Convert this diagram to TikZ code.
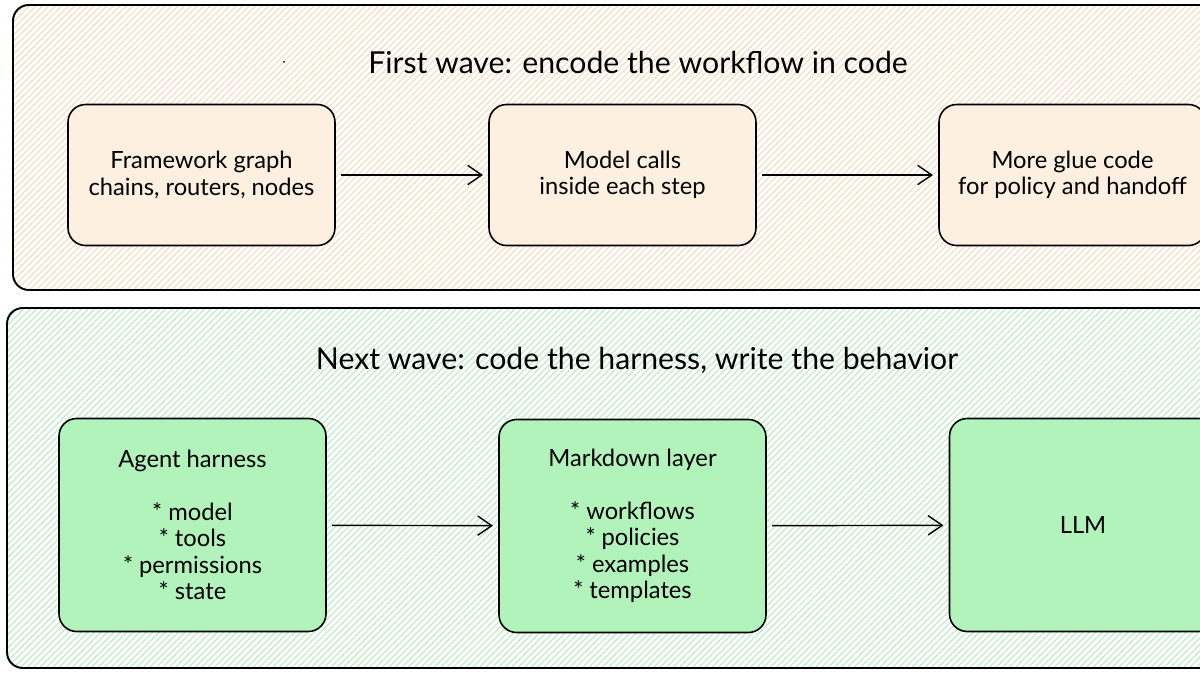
\documentclass[tikz,border=0pt]{standalone}
\usepackage{fontspec}
\setmainfont{Lato}
\usepackage{xcolor}
\usetikzlibrary{arrows.meta, patterns.meta, positioning}

\definecolor{peach}{HTML}{FDF0E1}
\definecolor{mint}{HTML}{B2F2BB}
\definecolor{hatchorange}{HTML}{F8DABA}
\definecolor{hatchgreen}{HTML}{B6ECBE}

\begin{document}
\begin{tikzpicture}[x=0.02cm, y=-0.02cm,
  panel/.style={line width=1.1pt, rounded corners=9pt},
  box/.style={draw, line width=0.9pt, rounded corners=10pt, minimum width=5.34cm,
    align=center, font=\fontsize{13.5}{15}\selectfont},
  wavebox/.style={box, fill=peach, minimum height=2.82cm},
  greenbox/.style={box, fill=mint, minimum height=4.26cm},
  flow/.style={-{Straight Barb[length=8pt,width=11pt]}, line width=0.8pt,
    shorten <=3pt, shorten >=3pt},
  title/.style={font=\fontsize{17.2}{20}\selectfont}]

  % Canvas
  \useasboundingbox (0,0) rectangle (1200,675);
  \clip (0,0) rectangle (1200,675);
  \fill[white] (0,0) rectangle (1200,675);

  % First wave panel
  \fill[white, panel] (13,5) rectangle (1230,290);
  \path[panel, pattern={Lines[angle=45, distance=2.6pt, line width=0.6pt]},
    pattern color=hatchorange] (13,5) rectangle (1230,290);
  \draw[panel] (13,5) rectangle (1230,290);

  % Next wave panel
  \fill[white, panel] (7,308) rectangle (1230,668);
  \path[panel, pattern={Lines[angle=45, distance=2.6pt, line width=0.6pt]},
    pattern color=hatchgreen] (7,308) rectangle (1230,668);
  \draw[panel] (7,308) rectangle (1230,668);

  % Titles
  \node[title] (firsttitle) at (638,62) {First wave: encode the workflow in code};
  \node[title] (nexttitle) at (637,360) {Next wave: code the harness, write the behavior};
  \fill (284,62) circle (1);

  % First wave steps
  \node[wavebox] (framework) at (201.5,175) {Framework graph\\chains, routers, nodes};
  \node[wavebox] (modelcalls) at (622.5,175) {Model calls\\inside each step};
  \node[wavebox] (glue) at (1072.5,175) {More glue code\\for policy and handoff};

  % Next wave steps
  \node[greenbox] (harness) at (192.5,525)
    {Agent harness\\[15pt]{*} model\\{*} tools\\{*} permissions\\{*} state};
  \node[greenbox] (markdown) at (632.5,526)
    {Markdown layer\\[15pt]{*} workflows\\{*} policies\\{*} examples\\{*} templates};
  \node[greenbox] (llm) at (1083,525) {LLM};

  % Arrows
  \draw[flow] (framework) -- (modelcalls);
  \draw[flow] (modelcalls) -- (glue);
  \draw[flow] (harness) -- (markdown);
  \draw[flow] (markdown) -- (llm);
\end{tikzpicture}
\end{document}
